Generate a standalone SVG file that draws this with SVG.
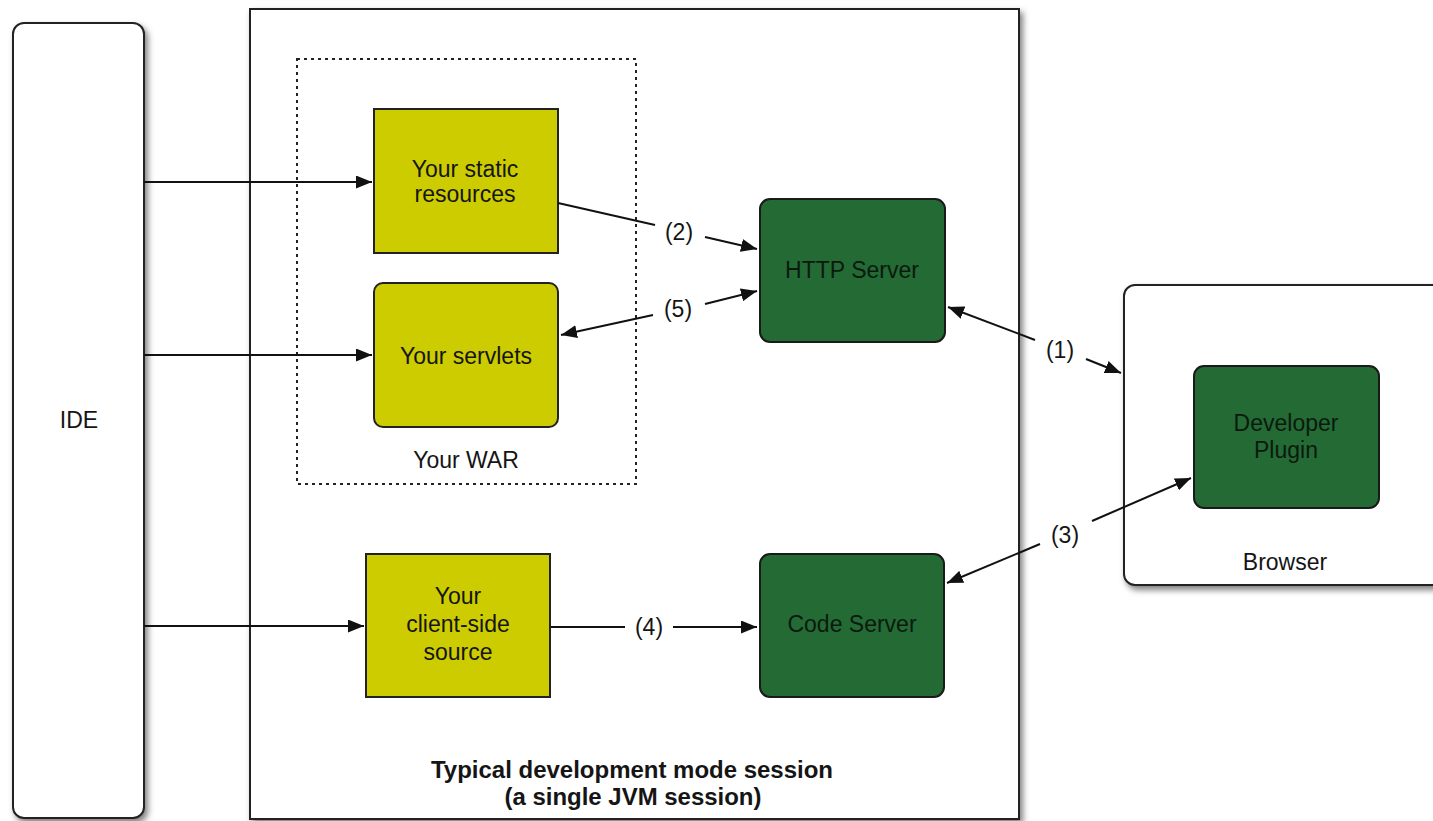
<svg xmlns="http://www.w3.org/2000/svg" width="1433" height="821" viewBox="0 0 1433 821">
<style>
text{font-family:"Liberation Sans",Arial,sans-serif;font-size:23px;fill:#151515;text-anchor:middle}
.bold{font-weight:bold}
.frame{fill:#fff;stroke:#222;stroke-width:2}
.olive{fill:#cccc00;stroke:#222;stroke-width:2}
.green{fill:#236a35;stroke:#1a1a1a;stroke-width:2}
.green-t{fill:#0b1a0d}
.dash{fill:none;stroke:#222;stroke-width:2;stroke-dasharray:3 4}
.conn line{stroke:#111;stroke-width:2}
</style>
<defs>
<filter id="sh" x="-10%" y="-10%" width="130%" height="130%">
<feDropShadow dx="3" dy="4" stdDeviation="3" flood-color="#000" flood-opacity="0.5"/>
</filter>
<marker id="arr" markerUnits="userSpaceOnUse" markerWidth="16" markerHeight="13" refX="16" refY="6.5" orient="auto-start-reverse" viewBox="0 0 16 13">
<path d="M0,0 L16,6.5 L0,13 z" fill="#111"/>
</marker>
</defs>
<rect width="1433" height="821" fill="#fff"/>

<g id="ide">
<rect class="frame" x="13" y="23" width="131" height="795" rx="11" filter="url(#sh)"/>
<text x="79" y="428">IDE</text>
</g>

<g id="jvm-session">
<rect class="frame" x="250" y="9" width="769" height="810" filter="url(#sh)"/>
<text class="bold" x="632" y="778" textLength="402" lengthAdjust="spacingAndGlyphs">Typical development mode session</text>
<text class="bold" x="633" y="805" textLength="257" lengthAdjust="spacingAndGlyphs">(a single JVM session)</text>
</g>

<g id="browser">
<rect class="frame" x="1124" y="285" width="330" height="300" rx="11" filter="url(#sh)"/>
<text x="1285" y="570">Browser</text>
</g>

<g id="war">
<rect class="dash" x="297" y="59" width="339" height="425"/>
<text x="466" y="468">Your WAR</text>
</g>

<g id="static-resources">
<rect class="olive" x="374" y="109" width="184" height="144"/>
<text x="465" y="177">Your static</text>
<text x="465" y="202">resources</text>
</g>

<g id="servlets">
<rect class="olive" x="374" y="283" width="184" height="144" rx="9"/>
<text x="466" y="364">Your servlets</text>
</g>

<g id="client-source">
<rect class="olive" x="366" y="554" width="184" height="143"/>
<text x="458" y="604">Your</text>
<text x="458" y="632">client-side</text>
<text x="458" y="660">source</text>
</g>

<g id="http-server">
<rect class="green" x="760" y="199" width="185" height="143" rx="10"/>
<text class="green-t" x="852" y="278">HTTP Server</text>
</g>

<g id="code-server">
<rect class="green" x="760" y="554" width="184" height="143" rx="10"/>
<text class="green-t" x="852" y="632">Code Server</text>
</g>

<g id="developer-plugin">
<rect class="green" x="1194" y="366" width="185" height="142" rx="10"/>
<text class="green-t" x="1286" y="431">Developer</text>
<text class="green-t" x="1286" y="458">Plugin</text>
</g>

<g id="connectors" class="conn">
<line x1="144" y1="182" x2="372" y2="182" marker-end="url(#arr)"/>
<line x1="144" y1="355" x2="372" y2="355" marker-end="url(#arr)"/>
<line x1="144" y1="626" x2="364" y2="626" marker-end="url(#arr)"/>

<line x1="558" y1="203" x2="655" y2="225"/>
<line x1="705" y1="237" x2="757" y2="249" marker-end="url(#arr)"/>
<text x="679" y="240">(2)</text>

<line x1="653" y1="315" x2="561" y2="335" marker-end="url(#arr)"/>
<line x1="705" y1="304" x2="757" y2="291" marker-end="url(#arr)"/>
<text x="678" y="317">(5)</text>

<line x1="1035" y1="340" x2="948" y2="307" marker-end="url(#arr)"/>
<line x1="1086" y1="359" x2="1121" y2="373" marker-end="url(#arr)"/>
<text x="1060" y="358">(1)</text>

<line x1="1040" y1="544" x2="947" y2="583" marker-end="url(#arr)"/>
<line x1="1092" y1="521" x2="1191" y2="478" marker-end="url(#arr)"/>
<text x="1065" y="543">(3)</text>

<line x1="551" y1="627" x2="625" y2="627"/>
<line x1="673" y1="627" x2="757" y2="627" marker-end="url(#arr)"/>
<text x="649" y="635">(4)</text>
</g>
</svg>
